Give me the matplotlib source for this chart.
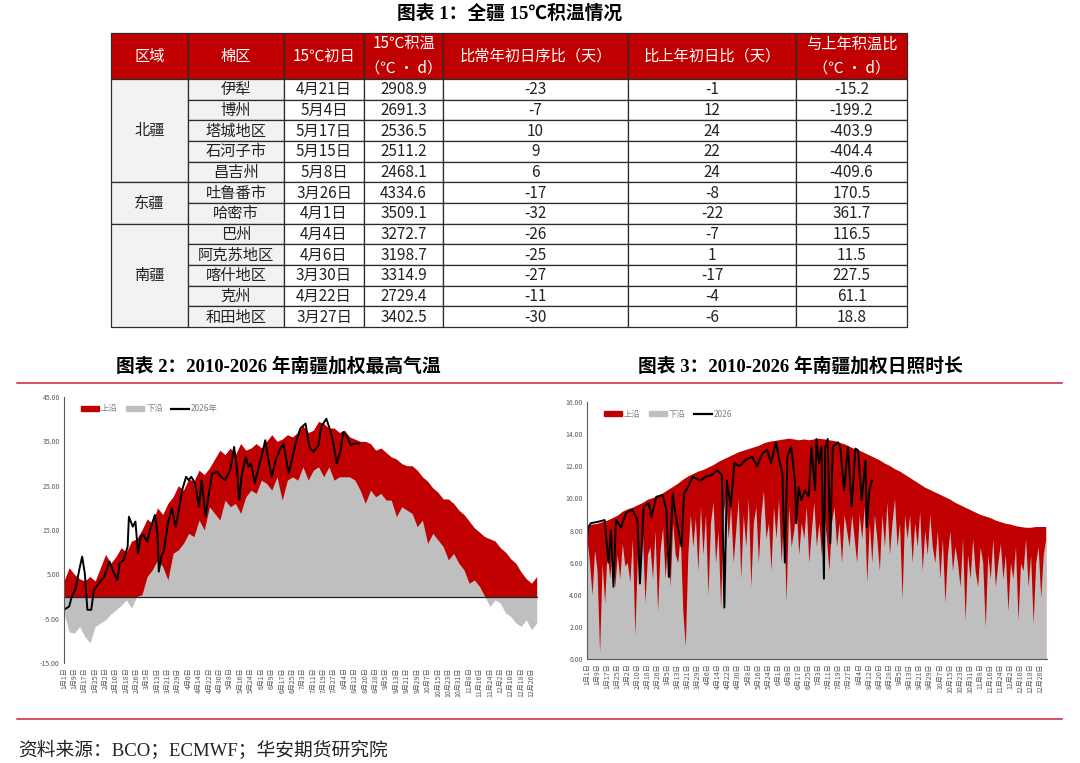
import matplotlib
matplotlib.use('Agg')
import matplotlib.pyplot as plt
from matplotlib.patches import Rectangle, Patch
from matplotlib.lines import Line2D
import numpy as np

plt.rcParams['font.family'] = ['Noto Sans CJK SC', 'DejaVu Sans']

RED = '#C00000'
GREY = '#BFBFBF'
W, H = 1080, 763

# ---- table 1 data ----
regions = ['北疆', '东疆', '南疆']
region_rows = [5, 2, 5]
areas = ['伊犁', '博州', '塔城地区', '石河子市', '昌吉州', '吐鲁番市', '哈密市',
         '巴州', '阿克苏地区', '喀什地区', '克州', '和田地区']
first_day = ['4月21日', '5月4日', '5月17日', '5月15日', '5月8日', '3月26日', '4月1日',
             '4月4日', '4月6日', '3月30日', '4月22日', '3月27日']
gdd = [2908.9, 2691.3, 2536.5, 2511.2, 2468.1, 4334.6, 3509.1,
       3272.7, 3198.7, 3314.9, 2729.4, 3402.5]
vs_normal = [-23, -7, 10, 9, 6, -17, -32, -26, -25, -27, -11, -30]
vs_last = [-1, 12, 24, 22, 24, -8, -22, -7, 1, -17, -4, -6]
gdd_diff = [-15.2, -199.2, -403.9, -404.4, -409.6, 170.5, 361.7,
            116.5, 11.5, 227.5, 61.1, 18.8]
headers = ['区域', '棉区', '15℃初日', '15℃积温\n（℃ · d）', '比常年初日序比（天）',
           '比上年初日比（天）', '与上年积温比\n（℃ · d）']

# ---- chart 2: max temperature, sampled every 4 days from Jan 1 ----
temp_upper = [3.5, 6.5, 5, 4, 3.5, 4.5, 3.5, 6.5, 9.5, 7.5, 9, 11, 10, 12.5, 13, 15,
              17.5, 16.5, 20, 18.5, 21, 22.5, 25, 24, 26.5, 26, 28.5, 27.5, 29, 31, 33, 32,
              33.5, 32, 34.5, 33, 33.5, 34.5, 33.5, 35, 36.5, 35, 35.5, 36.5, 36, 37,
              38.5, 37, 37.5, 39.5, 39, 38, 38, 37, 37.5, 36, 35.5, 35, 35, 34.5, 33,
              33.5, 32.5, 31.5, 31, 30, 29.5, 29.5, 28.5, 27, 26, 24.5, 23.5, 22, 22, 21,
              19.5, 18.5, 17, 15.5, 14.5, 13.5, 13, 12.5, 11, 10, 8.5, 7.5, 5.5, 4, 3, 4.5]
temp_lower = [-3.75, -8, -8.25, -6.75, -9, -10.5, -6.75, -6, -5.25, -4, -3, -2, -0.75,
              -2.6, 0, 0.4, 4.5, 6, 8.25, 6.75, 3.75, 9.75, 10.5, 12, 14.25, 13.5, 17.25,
              15, 20.25, 18.75, 17.25, 21.75, 20.25, 21, 18.75, 22.5, 24, 23.25, 26.25,
              25.5, 24, 27, 21.75, 26.25, 27, 26.25, 29.25, 26.25, 28.5, 29.25, 27, 29.25,
              26.25, 27, 27, 27, 26.25, 24, 21, 24, 22.5, 23.25, 21.75, 21.75, 18, 20.25,
              19.5, 18.75, 15.75, 17.25, 12, 14.25, 12.75, 11.25, 8.25, 9.75, 7.5, 6, 3,
              3.75, 2.25, 0, -2.25, -0.75, -1.5, -3.75, -4.5, -6, -6.75, -5.25, -7.5, -6]
t26_days = [0, 4, 6, 9, 12, 14, 16, 18, 21, 23, 27, 31, 35, 38, 41, 43, 46, 49, 50, 53,
            55, 57, 59, 61, 64, 67, 70, 72, 73, 75, 77, 80, 83, 86, 88, 91, 94, 96, 98, 101,
            104, 106, 109, 112, 114, 118, 121, 124, 128, 131, 133, 135, 137, 140, 142, 144,
            147, 150, 152, 155, 157, 160, 163, 166, 169, 173, 176, 179, 182, 186, 189, 192,
            196, 198, 202, 205, 207, 210, 213, 215, 218, 221, 223, 227]
t26_vals = [-3, -2.25, 0, 1.9, 6.4, 9, 5.25, -3, -3, 1.5, 3, 4.5, 7.9, 5.6, 3.75, 7.5, 8.25,
            11.25, 18, 15.75, 16.9, 9.75, 13.5, 13.9, 12.4, 15.75, 18.4, 14.25, 5.6, 9, 10.5,
            16.5, 19.9, 15.75, 18.75, 24, 27, 26.25, 27, 25.5, 20.25, 26.25, 18, 24, 27.75,
            28.1, 27, 26.25, 28.5, 33.75, 29.25, 21.75, 27.75, 31.5, 29.25, 30, 25.5, 29.25,
            31.5, 35.25, 31.5, 27, 30.75, 33, 34.5, 27.75, 31.5, 35.25, 37.9, 39, 33.75,
            32.6, 34.1, 38.25, 40.1, 37.5, 35.25, 30, 33, 37.1, 36, 34.1, 34.5, 34.5]

# ---- chart 3: sunshine hours; upper every 4 days, lower every 2 days ----
sun_upper = [8.3, 8.4, 8.45, 8.55, 8.65, 8.8, 8.95, 9.2, 9.35, 9.45, 9.6, 9.75, 9.95, 10.05,
             10.2, 10.35, 10.55, 10.75, 10.95, 11.2, 11.4, 11.55, 11.7, 11.8, 11.95, 12.1,
             12.3, 12.45, 12.6, 12.75, 12.9, 13.0, 13.1, 13.2, 13.3, 13.45, 13.55, 13.6,
             13.65, 13.7, 13.75, 13.7, 13.65, 13.7, 13.65, 13.7, 13.75, 13.7, 13.65, 13.6,
             13.5, 13.4, 13.25, 13.1, 13.0, 12.85, 12.7, 12.55, 12.4, 12.2, 12.05, 11.85,
             11.7, 11.5, 11.3, 11.1, 10.9, 10.7, 10.55, 10.4, 10.25, 10.1, 9.95, 9.75, 9.6,
             9.45, 9.3, 9.15, 9.0, 8.9, 8.8, 8.65, 8.55, 8.45, 8.4, 8.3, 8.25, 8.2, 8.2,
             8.25, 8.25, 8.25]
sun_lower = [7.5, 6.0, 4.0, 6.8, 5.5, 0.4, 6.0, 3.5, 6.8, 5.0, 7.0, 4.5, 6.5, 5.0, 7.2, 5.8,
             6.0, 4.8, 7.5, 1.5, 6.5, 5.5, 7.8, 3.5, 6.5, 7.0, 5.0, 8.0, 3.0, 6.8,
             8.2, 5.0, 7.5, 4.5, 8.5, 6.5, 6.0, 7.8, 3.0, 0.8, 6.5, 9.0, 7.0, 8.8, 5.5, 9.5,
             6.5, 9.0, 4.0, 8.5, 9.8, 6.0, 8.0, 3.2, 9.0, 10.2, 7.5, 9.5, 6.0, 8.0, 10.0,
             5.0, 9.0, 7.0, 10.0, 4.5, 8.5, 9.5, 6.0, 9.0, 10.5, 7.5, 8.5, 5.5, 9.5, 7.5, 10.0,
             6.0, 9.0, 3.6, 9.5, 7.0, 8.0, 9.5, 6.5, 8.5, 7.5, 9.5, 6.0, 8.0, 9.8, 7.0,
             8.5, 6.5, 9.0, 7.5, 5.5, 8.5, 9.5, 7.0, 8.5, 6.0, 9.0, 8.0, 7.0, 9.0, 7.5,
             6.0, 9.0, 7.5, 9.5, 4.8, 8.5, 6.0, 9.0, 7.5, 5.5, 9.0, 7.0, 9.8, 6.5, 8.5,
             10.0, 7.0, 8.5, 3.7, 9.0, 7.5, 9.0, 6.0, 8.5, 7.0, 9.2, 5.5, 8.0, 6.5, 9.0,
             7.0, 6.0, 8.0, 5.0, 7.5, 3.5, 6.5, 8.0, 5.5, 7.0, 6.0, 4.5, 7.5, 2.4, 6.5, 5.0,
             7.5, 5.5, 4.5, 7.0, 6.0, 2.0, 6.5, 5.0, 7.5, 4.5, 6.0, 7.2, 5.0, 6.5, 3.0,
             6.0, 5.0, 7.0, 2.4, 6.0, 5.5, 7.5, 4.5, 6.5, 2.2, 6.0, 7.0, 3.8, 6.5, 7.5]
s26_days = [0, 1, 3, 9, 14, 17, 19, 21, 23, 27, 31, 36, 40, 42, 45, 49, 51, 55, 60, 63,
            65, 68, 70, 73, 75, 77, 80, 84, 90, 94, 99, 103, 107, 109, 111, 114, 117, 121,
            126, 131, 135, 139, 143, 146, 150, 152, 155, 157, 159, 162, 165, 166, 168, 170,
            173, 176, 178, 181, 182, 184, 186, 188, 189, 191, 193, 195, 199, 201, 204, 207,
            210, 213, 215, 218, 221, 222, 224, 226]
s26_vals = [7.6, 8.2, 8.45, 8.55, 8.65, 6, 8, 4.5, 8.65, 8.2, 9.1, 9.3, 8.65, 4.7, 9.5, 9.7,
            8.85, 10.1, 10.2, 9.3, 5.1, 10.3, 9.1, 7.8, 7, 10.3, 10.7, 11.35, 11.1, 11.35,
            11.45, 11.75, 11.45, 3.2, 11.1, 9.5, 12.2, 12, 12.4, 12.6, 12, 12.8, 13, 12.2,
            13.5, 12.6, 11.55, 6, 12.6, 13.2, 11.1, 8.45, 10.7, 9.9, 10.5, 10.1, 13.2, 10.5,
            13.7, 12.2, 13.2, 5, 13.2, 13.7, 7.2, 13.2, 13.5, 13.2, 10.5, 13.2, 9.5, 13.1,
            13, 9.9, 12.4, 8.2, 10.5, 11.1]

tick_labels = ['1月1日', '1月9日', '1月17日', '1月25日', '2月2日', '2月10日', '2月18日',
               '2月26日', '3月5日', '3月13日', '3月21日', '3月29日', '4月6日', '4月14日',
               '4月22日', '4月30日', '5月8日', '5月16日', '5月24日', '6月1日', '6月9日',
               '6月17日', '6月25日', '7月3日', '7月11日', '7月19日', '7月27日', '8月4日',
               '8月12日', '8月20日', '8月28日', '9月5日', '9月13日', '9月21日', '9月29日',
               '10月7日', '10月15日', '10月23日', '10月31日', '11月8日', '11月16日',
               '11月24日', '12月2日', '12月10日', '12月18日', '12月26日']

fig = plt.figure(figsize=(W / 100, H / 100), dpi=100)
fig.patch.set_facecolor('white')

title_font = ['Liberation Serif', 'Noto Sans CJK SC']
fig.text(510 / W, 1 - 14 / H, '图表 1：全疆 15℃积温情况', ha='center', va='center',
         fontsize=13.5, fontweight='bold', family=title_font)
fig.text(278 / W, 1 - 366 / H, '图表 2：2010-2026 年南疆加权最高气温', ha='center',
         va='center', fontsize=13.5, fontweight='bold', family=title_font)
fig.text(800 / W, 1 - 366 / H, '图表 3：2010-2026 年南疆加权日照时长', ha='center',
         va='center', fontsize=13.5, fontweight='bold', family=title_font)
fig.text(18 / W, 1 - 750 / H, '资料来源：BCO；ECMWF；华安期货研究院', ha='left',
         va='center', fontsize=13.5, family=title_font, color='#222222')
for yy in (383, 719):
    fig.add_artist(Line2D([17 / W, 1062 / W], [1 - yy / H] * 2, color='#D0203A', lw=1.1))

# ---- table ----
col_w = [77, 96, 80, 79, 185, 168, 111]
head_h = 46
row_h = 248 / len(areas)
edges = np.concatenate([[0], np.cumsum(col_w)])
ax_t = fig.add_axes([111 / W, 1 - 327 / H, 796 / W, 294 / H])
ax_t.set_xlim(0, edges[-1])
ax_t.set_ylim(head_h + row_h * len(areas), 0)
ax_t.axis('off')
ec = '#2b2b2b'
for j, h in enumerate(headers):
    ax_t.add_patch(Rectangle((edges[j], 0), col_w[j], head_h, fc=RED, ec=ec, lw=0.9, clip_on=False))
    ax_t.text((edges[j] + edges[j + 1]) / 2, head_h / 2, h, color='white', ha='center',
              va='center', fontsize=11, linespacing=1.55)
r0 = 0
for reg, n in zip(regions, region_rows):
    y = head_h + r0 * row_h
    ax_t.add_patch(Rectangle((0, y), col_w[0], n * row_h, fc='#F2F2F2', ec=ec, lw=0.9, clip_on=False))
    ax_t.text(col_w[0] / 2, y + n * row_h / 2, reg, ha='center', va='center', fontsize=11,
              color='#222222')
    r0 += n
for i in range(len(areas)):
    y = head_h + i * row_h
    cells = [areas[i], first_day[i], f'{gdd[i]:.1f}', str(vs_normal[i]), str(vs_last[i]),
             f'{gdd_diff[i]:.1f}']
    for j, s in enumerate(cells, start=1):
        fc = '#F2F2F2' if j == 1 else 'white'
        ax_t.add_patch(Rectangle((edges[j], y), col_w[j], row_h, fc=fc, ec=ec, lw=0.9, clip_on=False))
        ax_t.text((edges[j] + edges[j + 1]) / 2, y + row_h / 2 + 0.5, s, ha='center',
                  va='center', fontsize=11, color='#222222')

# ---- charts ----
tick_days = np.arange(len(tick_labels)) * 8


def style_axis(ax, yticks, show_bottom):
    ax.set_xlim(0, 365)
    ax.set_yticks(yticks)
    ax.set_yticklabels([f'{v:.2f}' for v in yticks])
    ax.set_xticks(tick_days)
    ax.set_xticklabels(tick_labels, rotation=90)
    ax.tick_params(axis='both', length=0, labelsize=5, labelcolor='#595959', pad=3)
    for s in ['top', 'right']:
        ax.spines[s].set_visible(False)
    ax.spines['bottom'].set_visible(show_bottom)
    ax.spines['left'].set_color('#595959')
    ax.spines['bottom'].set_color('#595959')
    ax.set_facecolor('none')


def add_legend(ax, line_label):
    handles = [Patch(color=RED), Patch(color=GREY), Line2D([], [], color='black', lw=1.6)]
    ax.legend(handles, ['上沿', '下沿', line_label], loc='upper left',
              bbox_to_anchor=(0.02, 1.0), ncol=3, frameon=False, fontsize=6,
              handlelength=2.2, handleheight=0.55, handletextpad=0.2, columnspacing=1.0,
              labelcolor='#7f7f7f')


ax2 = fig.add_axes([64 / W, 1 - 663 / H, 474 / W, 266 / H])
d4 = np.arange(len(temp_upper)) * 4
ax2.fill_between(d4, 0, temp_upper, color=RED, lw=0)
ax2.fill_between(d4, 0, temp_lower, color=GREY, lw=0)
ax2.axhline(0, color='#222222', lw=0.9)
ax2.plot(t26_days, t26_vals, color='black', lw=1.4)
ax2.set_ylim(-15, 45)
style_axis(ax2, list(range(-15, 46, 10)), show_bottom=False)
add_legend(ax2, '2026年')

ax3 = fig.add_axes([587 / W, 1 - 659 / H, 460 / W, 257 / H])
d4s = np.arange(len(sun_upper)) * 4
d2s = np.arange(len(sun_lower)) * 2
ax3.fill_between(d4s, 0, sun_upper, color=RED, lw=0)
ax3.fill_between(d2s, 0, sun_lower, color=GREY, lw=0)
ax3.plot(s26_days, s26_vals, color='black', lw=1.4)
ax3.set_ylim(0, 16)
style_axis(ax3, list(range(0, 17, 2)), show_bottom=True)
add_legend(ax3, '2026')

fig.savefig('out.png', dpi=100)
